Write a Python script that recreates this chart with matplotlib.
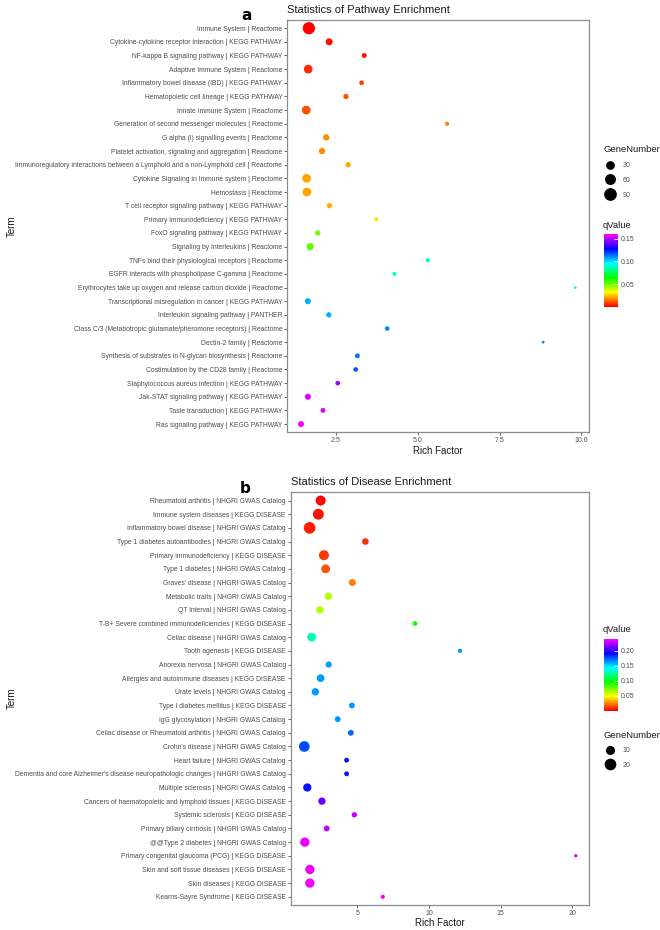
import numpy as np
import matplotlib
matplotlib.use("Agg")
import matplotlib.pyplot as plt
from matplotlib.colors import LinearSegmentedColormap, Normalize
from matplotlib.lines import Line2D
from matplotlib.colorbar import ColorbarBase

plt.rcParams['font.family'] = ['Liberation Sans', 'DejaVu Sans']

# ---------------------------------------------------------------------------
# Data
# ---------------------------------------------------------------------------
pathway_terms = [
    "Immune System | Reactome",
    "Cytokine-cytokine receptor interaction | KEGG PATHWAY",
    "NF-kappa B signaling pathway | KEGG PATHWAY",
    "Adaptive Immune System | Reactome",
    "Inflammatory bowel disease (IBD) | KEGG PATHWAY",
    "Hematopoietic cell lineage | KEGG PATHWAY",
    "Innate Immune System | Reactome",
    "Generation of second messenger molecules | Reactome",
    "G alpha (i) signalling events | Reactome",
    "Platelet activation, signaling and aggregation | Reactome",
    "Immunoregulatory interactions between a Lymphoid and a non-Lymphoid cell | Reactome",
    "Cytokine Signaling in Immune system | Reactome",
    "Hemostasis | Reactome",
    "T cell receptor signaling pathway | KEGG PATHWAY",
    "Primary immunodeficiency | KEGG PATHWAY",
    "FoxO signaling pathway | KEGG PATHWAY",
    "Signaling by Interleukins | Reactome",
    "TNFs bind their physiological receptors | Reactome",
    "EGFR interacts with phospholipase C-gamma | Reactome",
    "Erythrocytes take up oxygen and release carbon dioxide | Reactome",
    "Transcriptional misregulation in cancer | KEGG PATHWAY",
    "Interleukin signaling pathway | PANTHER",
    "Class C/3 (Metabotropic glutamate/pheromone receptors) | Reactome",
    "Dectin-2 family | Reactome",
    "Synthesis of substrates in N-glycan biosynthesis | Reactome",
    "Costimulation by the CD28 family | Reactome",
    "Staphylococcus aureus infection | KEGG PATHWAY",
    "Jak-STAT signaling pathway | KEGG PATHWAY",
    "Taste transduction | KEGG PATHWAY",
    "Ras signaling pathway | KEGG PATHWAY",
]
pathway_rich = [1.68, 2.30, 3.37, 1.66, 3.29, 2.81, 1.60, 5.90, 2.21, 2.08,
                2.88, 1.61, 1.62, 2.31, 3.74, 1.95, 1.72, 5.31, 4.29, 9.81,
                1.65, 2.29, 4.07, 8.83, 3.16, 3.11, 2.56, 1.65, 2.11, 1.44]
pathway_genes = [110, 27, 10, 48, 8, 12, 48, 5, 20, 20,
                 12, 48, 48, 12, 5, 12, 30, 5, 5, 1,
                 18, 12, 8, 1, 10, 8, 8, 18, 10, 18]
pathway_q = [0.000, 0.002, 0.003, 0.006, 0.008, 0.010, 0.010, 0.016, 0.018, 0.018,
             0.021, 0.021, 0.021, 0.022, 0.029, 0.050, 0.052, 0.085, 0.090, 0.092,
             0.106, 0.106, 0.110, 0.111, 0.113, 0.117, 0.148, 0.156, 0.156, 0.160]

disease_terms = [
    "Rheumatoid arthritis | NHGRI GWAS Catalog",
    "Immune system diseases | KEGG DISEASE",
    "Inflammatory bowel disease | NHGRI GWAS Catalog",
    "Type 1 diabetes autoantibodies | NHGRI GWAS Catalog",
    "Primary immunodeficiency | KEGG DISEASE",
    "Type 1 diabetes | NHGRI GWAS Catalog",
    "Graves' disease | NHGRI GWAS Catalog",
    "Metabolic traits | NHGRI GWAS Catalog",
    "QT interval | NHGRI GWAS Catalog",
    "T-B+ Severe combined immunodeficiencies | KEGG DISEASE",
    "Celiac disease | NHGRI GWAS Catalog",
    "Tooth agenesis | KEGG DISEASE",
    "Anorexia nervosa | NHGRI GWAS Catalog",
    "Allergies and autoimmune diseases | KEGG DISEASE",
    "Urate levels | NHGRI GWAS Catalog",
    "Type I diabetes mellitus | KEGG DISEASE",
    "IgG glycosylation | NHGRI GWAS Catalog",
    "Celiac disease or Rheumatoid arthritis | NHGRI GWAS Catalog",
    "Crohn's disease | NHGRI GWAS Catalog",
    "Heart failure | NHGRI GWAS Catalog",
    "Dementia and core Alzheimer's disease neuropathologic changes | NHGRI GWAS Catalog",
    "Multiple sclerosis | NHGRI GWAS Catalog",
    "Cancers of haematopoietic and lymphoid tissues | KEGG DISEASE",
    "Systemic sclerosis | KEGG DISEASE",
    "Primary biliary cirrhosis | NHGRI GWAS Catalog",
    "@@Type 2 diabetes | NHGRI GWAS Catalog",
    "Primary congenital glaucoma (PCG) | KEGG DISEASE",
    "Skin and soft tissue diseases | KEGG DISEASE",
    "Skin diseases | KEGG DISEASE",
    "Kearns-Sayre Syndrome | KEGG DISEASE",
]
disease_rich = [2.44, 2.28, 1.67, 5.56, 2.67, 2.79, 4.65, 2.98, 2.39, 9.02,
                1.81, 12.16, 3.00, 2.44, 2.07, 4.62, 3.63, 4.55, 1.30, 4.25,
                4.25, 1.51, 2.53, 4.79, 2.86, 1.34, 20.23, 1.69, 1.69, 6.77]
disease_genes = [19, 23, 27, 7, 19, 14, 8, 9, 9, 3,
                 14, 2, 6, 10, 9, 5, 5, 5, 22, 3,
                 3, 12, 9, 4, 5, 16, 1, 16, 16, 2]
disease_q = [0.001, 0.003, 0.006, 0.009, 0.011, 0.016, 0.024, 0.062, 0.062, 0.092,
             0.130, 0.163, 0.163, 0.163, 0.163, 0.164, 0.164, 0.172, 0.178, 0.188,
             0.188, 0.189, 0.211, 0.228, 0.228, 0.236, 0.237, 0.238, 0.238, 0.240]

rainbow6 = LinearSegmentedColormap.from_list(
    "rainbow6", ["#FF0000", "#FFFF00", "#00FF00", "#00FFFF", "#0000FF", "#FF00FF"])

GRAY = "#4D4D4D"
FRAME = "#8C8C8C"
H = 930.0  # figure height in px


def size_px(genes, a, b):
    # dot diameter in pixels -> scatter area in pt^2 (dpi 100)
    d = a + b * np.sqrt(np.asarray(genes, dtype=float))
    return (d * 0.72) ** 2


def panel(rect, terms, rich, genes, q, qmax, a, b, title, letter, letter_x, xticks, xfmt):
    ax = fig.add_axes(rect)
    y = np.arange(len(terms))
    norm = Normalize(0, qmax)
    ax.scatter(rich, y, s=size_px(genes, a, b), c=q, cmap=rainbow6, norm=norm,
               edgecolors='none', zorder=3)
    ax.set_ylim(len(terms) - 0.4, -0.6)
    lo, hi = min(rich), max(rich)
    pad = (hi - lo) * 0.05
    ax.set_xlim(lo - pad, hi + pad)
    ax.set_yticks(y)
    ax.set_yticklabels(terms, fontsize=4.9, color=GRAY)
    ax.set_xticks(xticks)
    ax.set_xticklabels([xfmt.format(t) for t in xticks], fontsize=5, color=GRAY)
    ax.tick_params(length=2, width=0.6, color=GRAY, pad=1.5)
    for sp in ax.spines.values():
        sp.set_color(FRAME)
        sp.set_linewidth(0.9)
    ax.set_xlabel("Rich Factor", fontsize=7, color="#1A1A1A", labelpad=1)
    ax.set_title(title, fontsize=8.0, color="#1A1A1A", loc='left', pad=5)
    fig.text(0.01, rect[1] + rect[3] / 2, "Term", rotation=90, fontsize=7,
             color="#1A1A1A", ha='left', va='center')
    fig.text(letter_x, rect[1] + rect[3] - 0.5 / H, letter, fontsize=11,
             fontweight='bold', ha='center', va='baseline', family='DejaVu Sans')
    return ax, norm


def colorbar(rect, norm, ticks, title, title_base):
    cax = fig.add_axes(rect)
    cb = ColorbarBase(cax, cmap=rainbow6, norm=norm, ticks=ticks)
    cb.outline.set_visible(False)
    cax.tick_params(length=3, width=0.6, color='white', direction='in',
                    labelsize=5, labelcolor=GRAY, pad=2)
    cax.set_yticklabels([f"{t:.2f}" for t in ticks])
    fig.text(rect[0] - 0.002, 1 - title_base / H, title, fontsize=6.8,
             color="#1A1A1A", ha='left', va='baseline')


def size_legend(ax, values, a, b, title_base, center_px):
    fig.text(603 / 660, 1 - title_base / H, "GeneNumber", fontsize=6.8,
             color="#1A1A1A", ha='left', va='baseline')
    handles = [Line2D([], [], linestyle='none', marker='o', color='black',
                      markersize=np.sqrt(size_px([v], a, b)[0]), label=str(v))
               for v in values]
    leg = ax.legend(handles=handles, frameon=False,
                    loc='center left', bbox_to_anchor=(603 / 660, 1 - center_px / H),
                    bbox_transform=fig.transFigure, fontsize=5,
                    labelspacing=1.13, handletextpad=0.8, borderpad=0,
                    borderaxespad=0, handlelength=2.0)
    for t in leg.get_texts():
        t.set_color(GRAY)


fig = plt.figure(figsize=(6.6, 9.3), dpi=100)

# (a) pathway enrichment
ax1, norm1 = panel([0.4353, 0.5352, 0.4571, 0.4433], pathway_terms, pathway_rich,
                   pathway_genes, pathway_q, 0.16, 1.8, 1.0,
                   "Statistics of Pathway Enrichment", "a", 0.374,
                   [2.5, 5.0, 7.5, 10.0], "{:.1f}")
size_legend(ax1, [30, 60, 90], 1.8, 1.0, 152.5, 180.3)
colorbar([0.9148, 0.6702, 0.0215, 0.0778], norm1, [0.05, 0.10, 0.15], "qValue", 228.5)

# (b) disease enrichment
ax2, norm2 = panel([0.4405, 0.0269, 0.4524, 0.4437], disease_terms, disease_rich,
                   disease_genes, disease_q, 0.24, 1.4, 1.98,
                   "Statistics of Disease Enrichment", "b", 0.371,
                   [5, 10, 15, 20], "{:d}")
colorbar([0.9152, 0.2358, 0.0212, 0.0771], norm2, [0.05, 0.10, 0.15, 0.20], "qValue", 632.5)
size_legend(ax2, [10, 20], 1.4, 1.98, 738.3, 758.0)

fig.savefig("out.png", dpi=100)
